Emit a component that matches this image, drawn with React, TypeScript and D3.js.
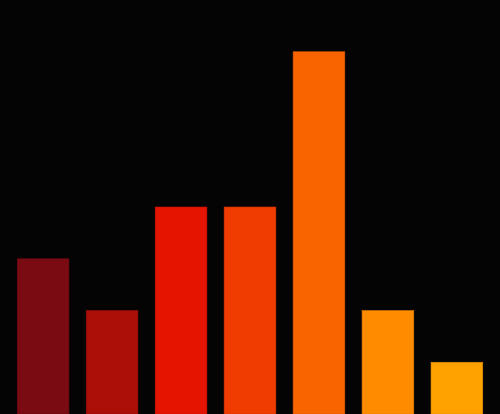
import { useEffect, useRef } from 'react'
import * as d3 from 'd3'

const categories = ['A', 'B', 'C', 'D', 'E', 'F', 'G']
const values = [3, 2, 4, 4, 7, 2, 1]
const colors = ['#7a0b12', '#ab0f08', '#e41400', '#f03c00', '#f96400', '#ff8c00', '#ffa200']

export default function App() {
  const svgRef = useRef<SVGSVGElement>(null)

  useEffect(() => {
    document.body.style.margin = '0'
    if (!svgRef.current) return

    const width = 500
    const height = 414
    const svg = d3.select(svgRef.current)
    svg.selectAll('*').remove()

    svg.append('rect')
      .attr('width', width)
      .attr('height', height)
      .attr('fill', '#040405')

    const x = d3.scaleBand<string>()
      .domain(categories)
      .range([0, width])
      .paddingInner(0.25)
      .paddingOuter(0.25)

    const y = d3.scaleLinear()
      .domain([0, 8])
      .range([height, 0])

    svg.selectAll('.bar')
      .data(values)
      .enter()
      .append('rect')
      .attr('class', 'bar')
      .attr('x', (d, i) => x(categories[i]) ?? 0)
      .attr('y', d => y(d))
      .attr('width', x.bandwidth())
      .attr('height', d => height - y(d))
      .attr('fill', (d, i) => colors[i])
      .attr('stroke', (d, i) => d3.color(colors[i])?.darker(0.4).toString() ?? colors[i])
      .attr('stroke-width', 0.6)
  }, [])

  return <svg ref={svgRef} width={500} height={414} style={{ display: 'block' }} />
}
